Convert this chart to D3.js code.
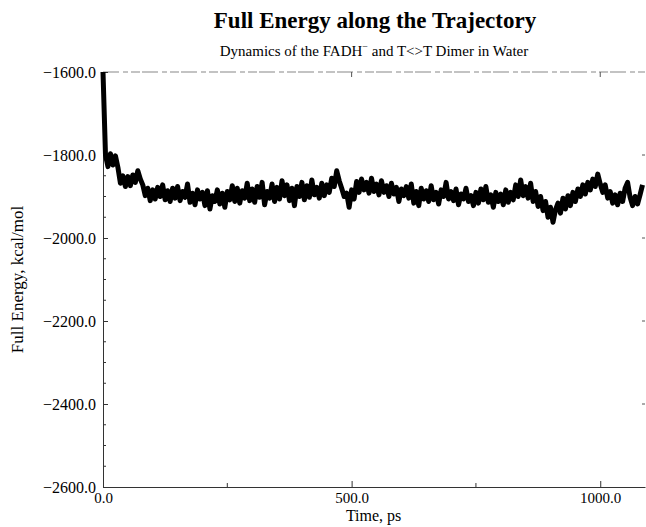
<!DOCTYPE html>
<html>
<head>
<meta charset="utf-8">
<script src="https://cdn.jsdelivr.net/npm/d3@7"></script>
<style>
  body { margin: 0; background: #fff; }
  text { font-family: "Liberation Serif", "Times New Roman", serif; fill: #000; }
</style>
</head>
<body>
<svg id="chart" width="646" height="527"></svg>
<script>
// time step of the trace, ps
var timeStep = 5;

// full energy, kcal/mol, one value every 5 ps from 0 ps
var energy = [
  -1600, -1800, -1828, -1797, -1824, -1802, -1830, -1868, -1850, -1876,
  -1852, -1874, -1848, -1866, -1838, -1858, -1872, -1898, -1880, -1910,
  -1884, -1906, -1878, -1900, -1872, -1908, -1886, -1912, -1880, -1904,
  -1876, -1910, -1888, -1902, -1870, -1914, -1892, -1920, -1884, -1906,
  -1890, -1922, -1886, -1930, -1898, -1912, -1884, -1918, -1892, -1926,
  -1888, -1908, -1874, -1912, -1880, -1916, -1886, -1904, -1868, -1910,
  -1882, -1914, -1876, -1902, -1866, -1920, -1888, -1904, -1870, -1912,
  -1878, -1906, -1862, -1898, -1872, -1910, -1880, -1922, -1876, -1900,
  -1866, -1908, -1874, -1902, -1860, -1896, -1878, -1904, -1868, -1898,
  -1872, -1890, -1856, -1876, -1838, -1862, -1880, -1900, -1892, -1926,
  -1884, -1906, -1864, -1890, -1858, -1884, -1866, -1892, -1856, -1888,
  -1870, -1896, -1862, -1890, -1874, -1900, -1868, -1894, -1878, -1912,
  -1882, -1898, -1876, -1904, -1870, -1916, -1888, -1922, -1880, -1906,
  -1886, -1912, -1874, -1908, -1890, -1918, -1884, -1900, -1866, -1906,
  -1888, -1910, -1882, -1920, -1894, -1906, -1880, -1912, -1898, -1922,
  -1890, -1916, -1882, -1908, -1876, -1914, -1896, -1926, -1890, -1912,
  -1894, -1920, -1884, -1914, -1890, -1908, -1872, -1900, -1860, -1898,
  -1876, -1904, -1868, -1912, -1888, -1924, -1900, -1934, -1912, -1950,
  -1926, -1962, -1932, -1916, -1940, -1904, -1930, -1898, -1922, -1890,
  -1912, -1882, -1900, -1872, -1894, -1866, -1884, -1858, -1876, -1846,
  -1870, -1890, -1872, -1904, -1888, -1916, -1896, -1920, -1892, -1912,
  -1880, -1866, -1902, -1922, -1900, -1918, -1896, -1872
];

// axis ticks
var yTicks = [-1600, -1800, -2000, -2200, -2400, -2600];
var yMinorTicks = d3.range(-2550, -1600, 50).filter(function (v) { return v % 200 !== 0; });
var xTicks = [0, 500, 1000];
var xMinorTicks = [250, 750];

var svg = d3.select("#chart");
var plotLeft = 103, plotRight = 645, plotTop = 72, plotBottom = 487;

var x = d3.scaleLinear().domain([0, 1090]).range([plotLeft, plotRight]);
var y = d3.scaleLinear().domain([-2600, -1600]).range([plotBottom, plotTop]);

var fmt = function (v) { return d3.format(".1f")(v).replace("-", "\u2212"); };

// titles
svg.append("text")
    .attr("x", 375).attr("y", 28)
    .attr("text-anchor", "middle")
    .style("font-size", "23px").style("font-weight", "bold")
    .text("Full Energy along the Trajectory");

var sub = svg.append("text")
    .attr("x", 374).attr("y", 56)
    .attr("text-anchor", "middle")
    .style("font-size", "15px");
sub.append("tspan").text("Dynamics of the FADH");
sub.append("tspan").attr("dy", -6).style("font-size", "10px").text("\u2212");
sub.append("tspan").attr("dy", 6).text(" and T<>T Dimer in Water");

// frame: top border dashed and faint
svg.append("line")
    .attr("x1", plotLeft).attr("x2", plotRight).attr("y1", plotTop).attr("y2", plotTop)
    .attr("stroke", "#888").attr("stroke-width", 1.2)
    .attr("stroke-dasharray", "16,4,5,3,9,2");

// left axis
var yAxis = d3.axisLeft(y).tickValues(yTicks).tickFormat(fmt).tickSizeInner(-5).tickSizeOuter(0).tickPadding(7);
var gy = svg.append("g").attr("transform", "translate(" + plotLeft + ",0)").call(yAxis);
gy.selectAll("text").style("font-size", "16px").style("font-family", "Liberation Serif");
gy.select(".domain").attr("stroke", "#333");
gy.selectAll(".tick line").attr("stroke", "#333");

gy.selectAll(".minor").data(yMinorTicks).enter().append("line")
    .attr("class", "minor")
    .attr("x1", 0).attr("x2", 3)
    .attr("y1", function (d) { return y(d); }).attr("y2", function (d) { return y(d); })
    .attr("stroke", "#333");

// right ticks
svg.append("g").selectAll("line").data(yTicks.slice(1, 5)).enter().append("line")
    .attr("x1", plotRight - 3).attr("x2", plotRight)
    .attr("y1", function (d) { return y(d); }).attr("y2", function (d) { return y(d); })
    .attr("stroke", "#555");

// bottom axis
var xAxis = d3.axisBottom(x).tickValues(xTicks).tickFormat(fmt).tickSizeInner(-6).tickSizeOuter(0).tickPadding(5);
var gx = svg.append("g").attr("transform", "translate(0," + plotBottom + ")").call(xAxis);
gx.selectAll("text").style("font-size", "15px").style("font-family", "Liberation Serif");
gx.select(".domain").attr("stroke", "#333");
gx.selectAll(".tick line").attr("stroke", "#333");

gx.selectAll(".minor").data(xMinorTicks).enter().append("line")
    .attr("class", "minor")
    .attr("x1", function (d) { return x(d); }).attr("x2", function (d) { return x(d); })
    .attr("y1", 0).attr("y2", -4)
    .attr("stroke", "#333");

// top ticks
svg.append("g").selectAll("line").data([500, 1000]).enter().append("line")
    .attr("x1", function (d) { return x(d); }).attr("x2", function (d) { return x(d); })
    .attr("y1", plotTop).attr("y2", plotTop + 5)
    .attr("stroke", "#555");

// axis titles
svg.append("text")
    .attr("x", x(500) + 22).attr("y", 521)
    .attr("text-anchor", "middle")
    .style("font-size", "16px")
    .text("Time, ps");

svg.append("text")
    .attr("transform", "translate(23," + ((plotTop + plotBottom) / 2) + ") rotate(-90)")
    .attr("text-anchor", "middle")
    .style("font-size", "17px")
    .text("Full Energy, kcal/mol");

// energy trace
var line = d3.line()
    .x(function (d, i) { return x(i * timeStep); })
    .y(function (d) { return y(d); });

svg.append("path")
    .datum(energy)
    .attr("d", line)
    .attr("fill", "none")
    .attr("stroke", "#000")
    .attr("stroke-width", 5)
    .attr("stroke-linejoin", "round");
</script>
</body>
</html>
